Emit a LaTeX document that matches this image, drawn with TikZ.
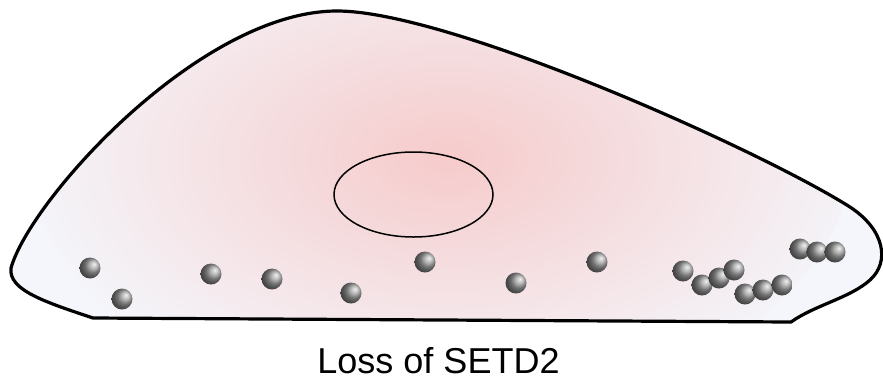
\documentclass[tikz,border=0pt]{standalone}
\usepackage{fontspec}
\setmainfont{Liberation Sans}
\usetikzlibrary{shapes.geometric}
\definecolor{cytopink}{RGB}{246,203,203}
\definecolor{cytoblue}{RGB}{244,246,251}

\begin{document}
\begin{tikzpicture}[x=1pt, y=-1pt,
                  membrane/.style={draw, line width=3.2pt, fill=cytoblue},
                  nucleus/.style={draw, ellipse, line width=1.5pt, minimum width=159pt, minimum height=85pt},
                  vesicle/.style={circle, inner sep=0pt, minimum size=21pt, shading=ball, shading angle=-90, ball color=gray!75},
                  caption/.style={font=\fontsize{36}{43}\selectfont, anchor=base}]

    \useasboundingbox (0,0) rectangle (883,384); % same size as the slide figure

    % cell body, pink towards the middle
    \path[membrane, path picture={\shade[inner color=cytopink, outer color=cytoblue] (440,158) ellipse [x radius=410pt, y radius=255pt];}]
        (93,318) -- (791,322)
        .. controls (815,305) and (850,298) .. (870,280)
        .. controls (890,262) and (885,230) .. (850,207)
        .. controls (760,150) and (450,11) .. (337,11)
        .. controls (200,11) and (30,200) .. (11,268)
        .. controls (8,290) and (45,302) .. (93,318) -- cycle;

    \node [nucleus] (nuc) at (413.5,194.5) {};

    % scattered vesicles
    \node [vesicle] (ves1) at (90,268) {};
    \node [vesicle] (ves2) at (122,299) {};
    \node [vesicle] (ves3) at (211,274) {};
    \node [vesicle] (ves4) at (272,279) {};
    \node [vesicle] (ves5) at (351,293) {};
    \node [vesicle] (ves6) at (425,262) {};
    \node [vesicle] (ves7) at (516,283) {};
    \node [vesicle] (ves8) at (597,262) {};
    % clumped vesicles at the right end
    \node [vesicle] (ves9) at (683,271) {};
    \node [vesicle] (ves10) at (702,285) {};
    \node [vesicle] (ves11) at (719,278) {};
    \node [vesicle] (ves12) at (734,270) {};
    \node [vesicle] (ves13) at (745,294) {};
    \node [vesicle] (ves14) at (763,290) {};
    \node [vesicle] (ves15) at (782,285) {};
    \node [vesicle] (ves16) at (800,249) {};
    \node [vesicle] (ves17) at (817,252) {};
    \node [vesicle] (ves18) at (835,252) {};

    \node [caption] (loss) at (438.5,373) {Loss of SETD2};

\end{tikzpicture}
\end{document}
